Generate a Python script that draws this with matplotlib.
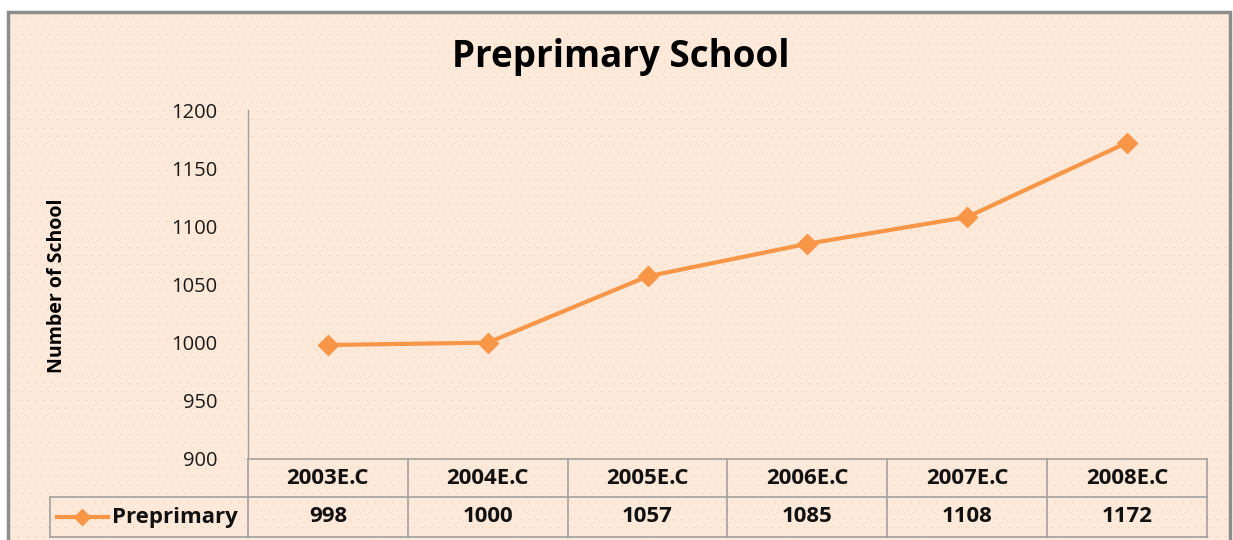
import matplotlib
matplotlib.use("Agg")
import matplotlib.pyplot as plt
import numpy as np
from matplotlib.patches import Rectangle
import matplotlib.transforms as mtransforms

categories = ["2003E.C", "2004E.C", "2005E.C", "2006E.C", "2007E.C", "2008E.C"]
values = [998, 1000, 1057, 1085, 1108, 1172]
series_name = "Preprimary"
title = "Preprimary School"
ylabel = "Number of School"
yticks = [900, 950, 1000, 1050, 1100, 1150, 1200]

W, H = 1233, 540
plt.rcParams['font.family'] = ['Open Sans', 'DejaVu Sans']
fig = plt.figure(figsize=(W / 100, H / 100), dpi=100)
fig.patch.set_facecolor("white")

bg = "#FDE9D9"
orange = "#F79646"
grid_gray = "#A0A0A0"

# outer chart area
outer = Rectangle((8 / W, -0.05), (1230 - 8) / W, (H - 12) / H + 0.05,
                  transform=fig.transFigure, facecolor=bg, edgecolor="#8C8C8C",
                  linewidth=2.5, zorder=-5)
fig.patches.append(outer)

# subtle dotted texture (decorative)
bgax = fig.add_axes([0, 0, 1, 1], zorder=-4)
bgax.set_xlim(0, W)
bgax.set_ylim(H, 0)
bgax.axis("off")
bgax.patch.set_visible(False)
gx, gy = np.meshgrid(np.arange(14, 1226, 8.5), np.arange(17, 540, 8.5))
gx = gx + (np.arange(gx.shape[0])[:, None] % 2) * 4.25
bgax.scatter(gx.ravel(), gy.ravel(), s=0.8, color="#F9CDA8", linewidths=0)

L, R, T, B = 248, 1207, 110, 459
ax = fig.add_axes([L / W, (H - B) / H, (R - L) / W, (B - T) / H])
ax.set_facecolor("none")
n = len(categories)
ax.set_xlim(-0.5, n - 0.5)
ax.set_ylim(900, 1200)
ax.set_yticks(yticks)
ax.set_yticklabels([str(v) for v in yticks], fontsize=14.5, color="#1a1a1a")
ax.tick_params(axis='y', length=0, pad=22)
ax.set_xticks([])
for s in ["top", "right", "bottom"]:
    ax.spines[s].set_visible(False)
ax.spines["left"].set_color(grid_gray)
ax.spines["left"].set_linewidth(1)

ax.plot(range(n), values, color=orange, linewidth=3, marker="D",
        markersize=10, markerfacecolor=orange, markeredgecolor=orange, zorder=3)

# data table
trans = mtransforms.blended_transform_factory(ax.transData, ax.transAxes)
px = (B - T)
y_top = 0.0
y_mid = -(497 - B) / px
y_bot = -(537 - B) / px
x_left_leg = -0.5 + (50 - L) / ((R - L) / n)
lkw = dict(color=grid_gray, linewidth=1.2, transform=trans, clip_on=False)
ax.plot([-0.5, n - 0.5], [y_top, y_top], **lkw)
ax.plot([x_left_leg, n - 0.5], [y_mid, y_mid], **lkw)
ax.plot([x_left_leg, n - 0.5], [y_bot, y_bot], **lkw)
for i in range(n + 1):
    ax.plot([i - 0.5, i - 0.5], [y_top, y_bot], **lkw)
ax.plot([x_left_leg, x_left_leg], [y_mid, y_bot], **lkw)

tfs = 16
for i, (c, v) in enumerate(zip(categories, values)):
    ax.text(i, (y_top + y_mid) / 2, c, transform=trans, ha="center", va="center",
            fontsize=tfs, fontweight="bold", color="#111111", clip_on=False)
    ax.text(i, (y_mid + y_bot) / 2, str(v), transform=trans, ha="center", va="center",
            fontsize=tfs, fontweight="bold", color="#111111", clip_on=False)

# legend key inside table
ymid_row = (y_mid + y_bot) / 2
xpx = lambda p: -0.5 + (p - L) / ((R - L) / n)
ax.plot([xpx(57), xpx(108)], [ymid_row, ymid_row], color=orange, linewidth=3,
        transform=trans, clip_on=False)
ax.plot([xpx(82)], [ymid_row], marker="D", markersize=8, color=orange,
        transform=trans, clip_on=False)
ax.text(xpx(112), ymid_row, series_name, transform=trans, ha="left", va="center",
        fontsize=tfs, fontweight="bold", color="#111111", clip_on=False)

fig.text(621 / W, 1 - 57 / H, title, ha="center", va="center",
         fontsize=26.5, fontweight="bold", color="#000000")
fig.text(57 / W, 1 - 286 / H, ylabel, ha="center", va="center", rotation=90,
         fontsize=14, fontweight="bold", color="#000000")

fig.savefig("out.png", dpi=100, facecolor=fig.get_facecolor())
